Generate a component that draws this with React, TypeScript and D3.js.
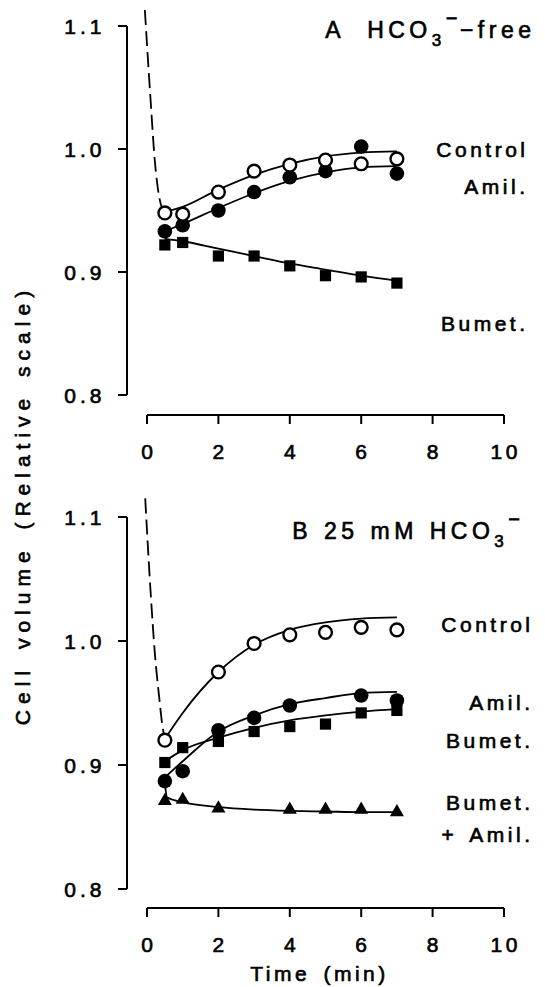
import React from "react";
import * as d3 from "d3";

// ---------- data ----------
const xTicks = [0, 2, 4, 6, 8, 10];
const yTicks = [0.8, 0.9, 1.0, 1.1];

// Panel A: HCO3- free
const aTimes = [0.5, 1, 2, 3, 4, 5, 6, 7];
const aControl = [0.948, 0.947, 0.965, 0.982, 0.987, 0.991, 0.988, 0.992];
const aAmil = [0.933, 0.938, 0.95, 0.965, 0.977, 0.982, 1.002, 0.98];
const aBumet = [0.922, 0.924, 0.913, 0.913, 0.905, 0.897, 0.896, 0.891];
const aFitTimes = [0.5, 1, 2, 3, 4, 5, 6, 7];
const aControlFit = [0.949, 0.953, 0.967, 0.979, 0.988, 0.994, 0.997, 0.998];
const aAmilFit = [0.933, 0.939, 0.952, 0.964, 0.974, 0.981, 0.985, 0.986];
const aBumetFit = [0.927, 0.925, 0.919, 0.913, 0.907, 0.902, 0.897, 0.893];
const aDashT = [-0.06, 0.1, 0.22, 0.33, 0.42, 0.5];
const aDashV = [1.113, 1.04, 0.99, 0.963, 0.952, 0.949];

// Panel B: 25 mM HCO3-
const bControlT = [0.5, 2, 3, 4, 5, 6, 7];
const bControl = [0.92, 0.975, 0.998, 1.005, 1.007, 1.011, 1.009];
const bAmilT = [0.5, 1, 2, 3, 4, 6, 7];
const bAmil = [0.887, 0.895, 0.928, 0.938, 0.948, 0.956, 0.952];
const bBumetT = [0.5, 1, 2, 3, 4, 5, 6, 7];
const bBumet = [0.902, 0.914, 0.919, 0.927, 0.931, 0.933, 0.942, 0.944];
const bBothT = [0.5, 1, 2, 4, 5, 6, 7];
const bBoth = [0.871, 0.872, 0.865, 0.864, 0.864, 0.864, 0.862];
const bFitTimes = [0.5, 1, 2, 3, 4, 5, 6, 7];
const bControlFit = [0.921, 0.942, 0.975, 0.997, 1.009, 1.015, 1.018, 1.019];
const bAmilFit = [0.89, 0.903, 0.927, 0.94, 0.949, 0.954, 0.958, 0.959];
const bBumetFit = [0.903, 0.912, 0.922, 0.93, 0.936, 0.94, 0.943, 0.945];
const bBothFitT = [0.5, 0.56, 1, 2, 3, 4, 5, 6, 7];
const bBothFit = [0.886, 0.874, 0.87, 0.866, 0.864, 0.863, 0.8625, 0.862, 0.862];
const bDashT = [-0.05, 0.1, 0.22, 0.34, 0.43, 0.5];
const bDashV = [1.115, 1.04, 0.99, 0.955, 0.932, 0.921];

// ---------- layout ----------
const W = 545;
const H = 987;
const FONT = "'Liberation Sans', Arial, Helvetica, sans-serif";
const FS = 21;
const LS = 3.5;
const WS = 4;
const SW = 0.65;
const x = d3.scaleLinear().domain([0, 10]).range([147, 504]);
const yAxisX = 127;

const zip = (t: number[], v: number[]) => t.map((tt, i) => [tt, v[i]] as [number, number]);

const textProps = {
  fontFamily: FONT,
  fontSize: FS,
  letterSpacing: LS,
  wordSpacing: WS,
  stroke: "#000",
  strokeWidth: SW,
  fill: "#000",
};

function Panel({
  y,
  xAxisY,
  children,
}: {
  y: d3.ScaleLinear<number, number>;
  xAxisY: number;
  children?: React.ReactNode;
}) {
  return (
    <g>
      {/* y axis */}
      <line x1={yAxisX} x2={yAxisX} y1={y(1.1)} y2={y(0.8)} stroke="#000" strokeWidth={2} />
      {yTicks.map((t) => (
        <g key={t}>
          <line x1={yAxisX - 9} x2={yAxisX} y1={y(t)} y2={y(t)} stroke="#000" strokeWidth={2} />
          <text x={yAxisX - 25 + LS} y={y(t)} dy="0.36em" textAnchor="end" {...textProps} letterSpacing={4}>
            {d3.format(".1f")(t)}
          </text>
        </g>
      ))}
      {/* x axis */}
      <line x1={x(0)} x2={x(10)} y1={xAxisY} y2={xAxisY} stroke="#000" strokeWidth={2} />
      {xTicks.map((t) => (
        <g key={t}>
          <line x1={x(t)} x2={x(t)} y1={xAxisY} y2={xAxisY + 9} stroke="#000" strokeWidth={2} />
          <text x={x(t) + LS / 2} y={xAxisY + 44} textAnchor="middle" {...textProps}>
            {t}
          </text>
        </g>
      ))}
      {children}
    </g>
  );
}

function FitLine({ pts, y, dashed }: { pts: [number, number][]; y: d3.ScaleLinear<number, number>; dashed?: boolean }) {
  const gen = d3
    .line<[number, number]>()
    .x((d) => x(d[0]))
    .y((d) => y(d[1]))
    .curve(d3.curveMonotoneX);
  return (
    <path
      d={gen(pts) || ""}
      fill="none"
      stroke="#000"
      strokeWidth={1.8}
      strokeDasharray={dashed ? "15,6" : undefined}
    />
  );
}

type Kind = "open" | "filled" | "square" | "triangle";
function Markers({ pts, y, kind }: { pts: [number, number][]; y: d3.ScaleLinear<number, number>; kind: Kind }) {
  return (
    <g>
      {pts.map((d, i) => {
        const cx = x(d[0]);
        const cy = y(d[1]);
        if (kind === "open")
          return <circle key={i} cx={cx} cy={cy} r={6.4} fill="#fff" stroke="#000" strokeWidth={2.4} />;
        if (kind === "filled") return <circle key={i} cx={cx} cy={cy} r={7.3} fill="#000" />;
        if (kind === "square") return <rect key={i} x={cx - 5.6} y={cy - 5.6} width={11.2} height={11.2} fill="#000" />;
        const tri = d3.symbol().type(d3.symbolTriangle).size(85)() || "";
        return <path key={i} d={tri} transform={`translate(${cx},${cy})`} fill="#000" />;
      })}
    </g>
  );
}

function Label({ x: lx, y: ly, children, anchor = "end" }: { x: number; y: number; children: React.ReactNode; anchor?: string }) {
  return (
    <text x={anchor === "end" ? lx + LS : lx} y={ly} textAnchor={anchor} {...textProps}>
      {children}
    </text>
  );
}

export default function App() {
  const yTop = d3.scaleLinear().domain([0.8, 1.1]).range([395, 26]);
  const yBot = d3.scaleLinear().domain([0.8, 1.1]).range([889, 517]);
  const rightTop = 525;
  const rightBot = 530;
  const TFS = 23;
  const TLS = 4.5;
  return (
    <svg
      width={W}
      height={H}
      viewBox={`0 0 ${W} ${H}`}
      style={{ position: "absolute", left: 0, top: 0, background: "#fff" }}
    >
      <rect width={W} height={H} fill="#fff" />
      {/* Panel A */}
      <Panel y={yTop} xAxisY={415}>
        <FitLine pts={zip(aDashT, aDashV)} y={yTop} dashed />
        <FitLine pts={zip(aFitTimes, aControlFit)} y={yTop} />
        <FitLine pts={zip(aFitTimes, aAmilFit)} y={yTop} />
        <FitLine pts={zip(aFitTimes, aBumetFit)} y={yTop} />
        <Markers pts={zip(aTimes, aBumet)} y={yTop} kind="square" />
        <Markers pts={zip(aTimes, aAmil)} y={yTop} kind="filled" />
        <Markers pts={zip(aTimes, aControl)} y={yTop} kind="open" />
        <text x={531 + TLS} y={38} textAnchor="end" {...textProps} fontSize={TFS} letterSpacing={TLS}>
          <tspan>A</tspan>
          <tspan dx={22}>HCO</tspan>
          <tspan dy={8} fontSize={TFS - 6}>3</tspan>
          <tspan dy={-21} dx={0} fontSize={TFS - 3}>−</tspan>
          <tspan dy={13} dx={-2}>−free</tspan>
        </text>
        <Label x={rightTop} y={157}>Control</Label>
        <Label x={rightTop} y={194}>Amil.</Label>
        <Label x={rightTop} y={331}>Bumet.</Label>
      </Panel>

      {/* Panel B */}
      <Panel y={yBot} xAxisY={908}>
        <FitLine pts={zip(bDashT, bDashV)} y={yBot} dashed />
        <FitLine pts={zip(bFitTimes, bControlFit)} y={yBot} />
        <FitLine pts={zip(bFitTimes, bAmilFit)} y={yBot} />
        <FitLine pts={zip(bFitTimes, bBumetFit)} y={yBot} />
        <FitLine pts={zip(bBothFitT, bBothFit)} y={yBot} />
        <Markers pts={zip(bBothT, bBoth)} y={yBot} kind="triangle" />
        <Markers pts={zip(bBumetT, bBumet)} y={yBot} kind="square" />
        <Markers pts={zip(bAmilT, bAmil)} y={yBot} kind="filled" />
        <Markers pts={zip(bControlT, bControl)} y={yBot} kind="open" />
        <text x={520 + TLS} y={539} textAnchor="end" {...textProps} fontSize={TFS} letterSpacing={TLS} wordSpacing={1}>
          <tspan>B 25 mM HCO</tspan>
          <tspan dy={8} fontSize={TFS - 6}>3</tspan>
          <tspan dy={-21} dx={0} fontSize={TFS - 3}>−</tspan>
        </text>
        <Label x={rightBot} y={632}>Control</Label>
        <Label x={rightBot} y={710}>Amil.</Label>
        <Label x={rightBot} y={748}>Bumet.</Label>
        <Label x={rightBot} y={810}>Bumet.</Label>
        <Label x={rightBot} y={842}>+ Amil.</Label>
      </Panel>

      <Label x={(x(0) + x(10)) / 2 - 6} y={981} anchor="middle">Time (min)</Label>

      <text
        transform={`translate(30, 505) rotate(-90)`}
        textAnchor="middle"
        {...textProps}
        letterSpacing={6}
        wordSpacing={4}
      >
        Cell volume (Relative scale)
      </text>
    </svg>
  );
}
